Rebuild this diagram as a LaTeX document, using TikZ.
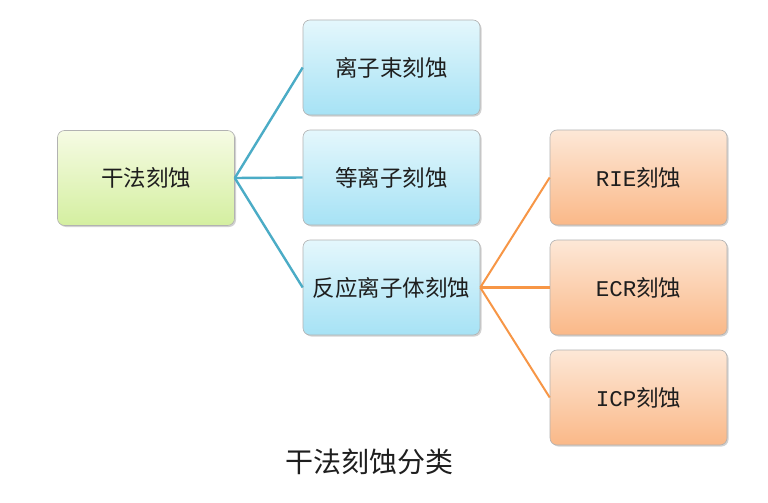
\documentclass[tikz,border=0pt]{standalone}
\usepackage{fontspec}
\setmainfont{Liberation Serif}
\newfontfamily\cjk{Noto Sans CJK SC}
\newfontfamily\mono{Liberation Mono}
\usetikzlibrary{shadows}
\definecolor{blueline}{HTML}{4BACC6}
\definecolor{orangeline}{HTML}{F79646}
\definecolor{txt}{HTML}{1E1E1E}
\tikzset{
  box/.style={draw=gray!60, line width=0.6pt, rounded corners=7pt, minimum width=177pt, minimum height=95pt,
    font=\cjk\fontsize{22.5}{26}\selectfont, text=txt,
    drop shadow={opacity=0.35, shadow xshift=1.5pt, shadow yshift=-1.5pt}},
  greenbox/.style={box, top color={rgb,255:red,246;green,251;blue,228}, bottom color={rgb,255:red,212;green,239;blue,160}},
  bluebox/.style={box, top color={rgb,255:red,228;green,247;blue,252}, bottom color={rgb,255:red,166;green,226;blue,245}},
  orangebox/.style={box, top color={rgb,255:red,253;green,232;blue,215}, bottom color={rgb,255:red,250;green,184;blue,136}},
  bline/.style={draw=blueline, line width=2.4pt},
  oline/.style={draw=orangeline, line width=2pt},
  othick/.style={draw=orangeline, line width=3.8pt},
}
\begin{document}
\begin{tikzpicture}[x=1pt,y=-1pt]
\useasboundingbox[fill=white] (0,0) rectangle (768,503);
\node[greenbox] (dry) at (146,178) {干法刻蚀};
\node[bluebox] (ib) at (391.5,67.5) {离子束刻蚀};
\node[bluebox] (pl) at (391.5,177.5) {等离子刻蚀};
\node[bluebox] (ri) at (391.5,287.5) {反应离子体刻蚀};
\node[orangebox] (rie) at (638.5,177.5) {{\mono RIE}刻蚀};
\node[orangebox] (ecr) at (638.5,287.5) {{\mono ECR}刻蚀};
\node[orangebox] (icp) at (638.5,397.5) {{\mono ICP}刻蚀};
\node[font=\cjk\fontsize{28}{32}\selectfont, text=txt] (cap) at (369,462) {干法刻蚀分类};
\draw[bline] (dry.east) -- (ib.west);
\draw[bline] (dry.east) -- (pl.west);
\draw[bline] (dry.east) -- (ri.west);
\draw[oline] (ri.east) -- (rie.west);
\draw[othick] (ri.east) -- (ecr.west);
\draw[oline] (ri.east) -- (icp.west);
\end{tikzpicture}
\end{document}
